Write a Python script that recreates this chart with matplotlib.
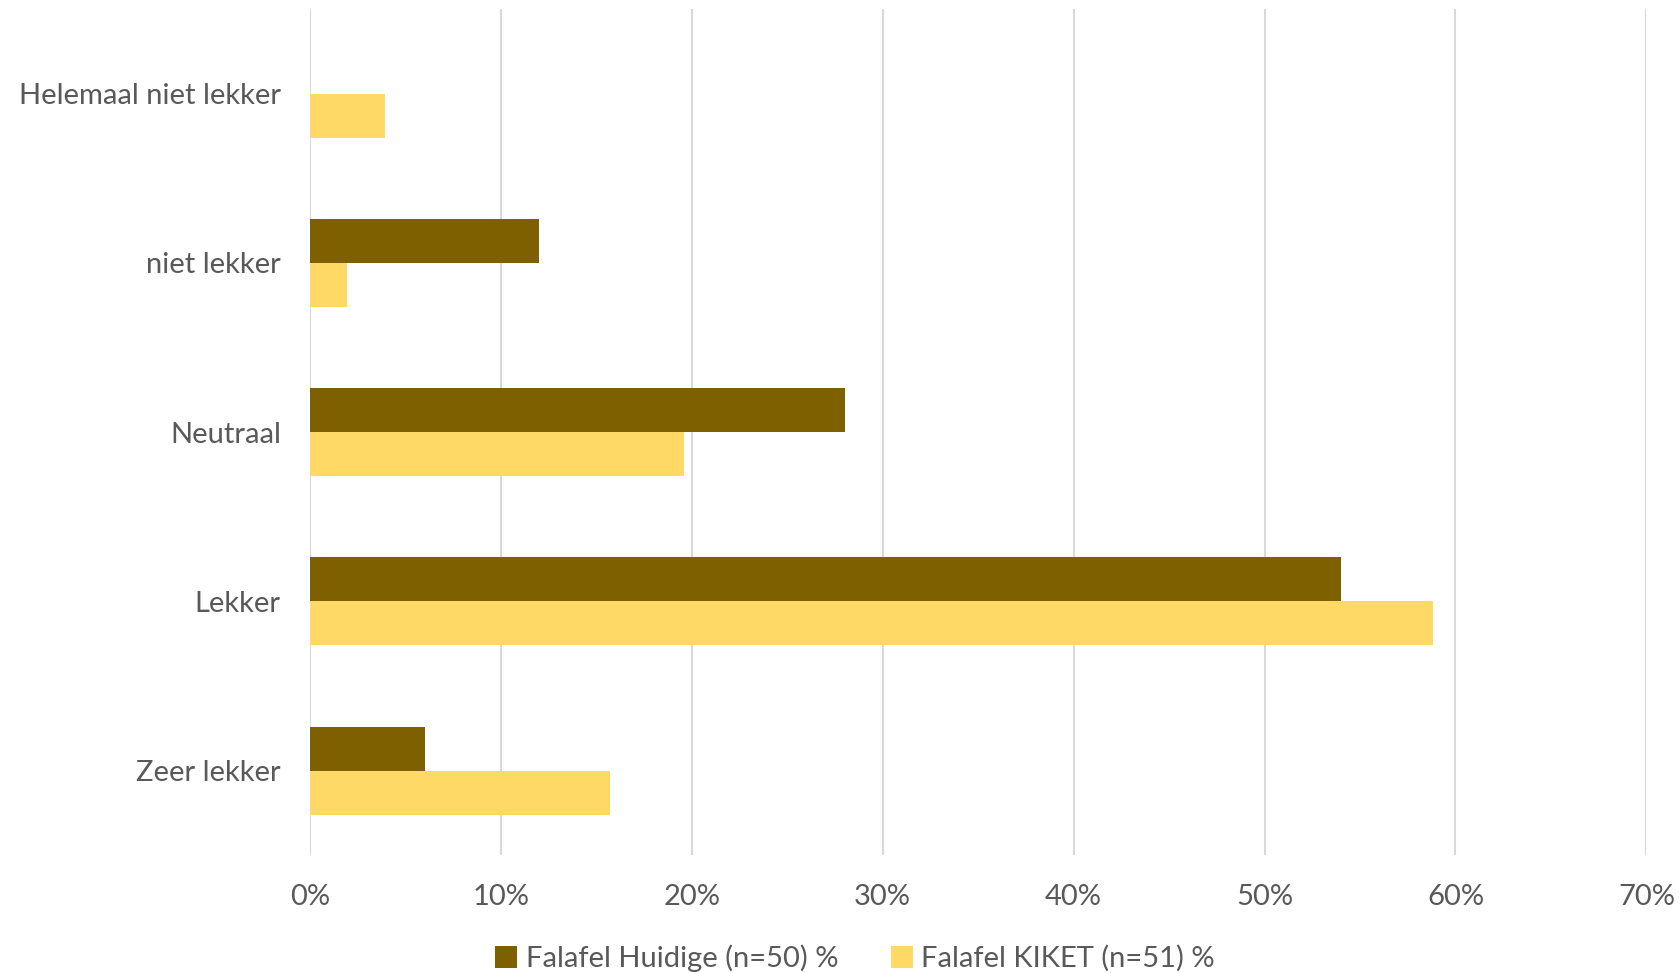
import matplotlib.pyplot as plt
import numpy as np

categories = ["Zeer lekker", "Lekker", "Neutraal", "niet lekker", "Helemaal niet lekker"]
huidige = [6.0, 54.0, 28.0, 12.0, 0.0]
kiket = [15.69, 58.82, 19.61, 1.96, 3.92]
series_names = ["Falafel Huidige (n=50) %", "Falafel KIKET (n=51) %"]
xticks = [0, 10, 20, 30, 40, 50, 60, 70]

plt.rcParams['font.family'] = ['Lato', 'DejaVu Sans']
text_color = "#595959"

fig = plt.figure(figsize=(16.8, 9.73), dpi=100)
ax = fig.add_axes([0.1845, 0.121, 0.7955, 0.8697])

y = np.arange(len(categories))
h = 0.26
ax.barh(y + h / 2, huidige, height=h, color="#7F6000", label=series_names[0], zorder=3)
ax.barh(y - h / 2, kiket, height=h, color="#FFD966", label=series_names[1], zorder=3)

ax.set_xlim(0, 70)
ax.set_ylim(-0.5, len(categories) - 0.5)
ax.set_xticks(xticks)
ax.set_xticklabels([f"{t}%" for t in xticks])
ax.set_yticks(y)
ax.set_yticklabels(categories)
ax.tick_params(axis="both", length=0, labelsize=21, colors=text_color)
ax.tick_params(axis="x", pad=21)
ax.tick_params(axis="y", pad=21)
ax.grid(axis="x", color="#d9d9d9", linewidth=1.5, zorder=0)
for s in ax.spines.values():
    s.set_visible(False)

fig.legend(loc="center", bbox_to_anchor=(0.509, 0.015), ncol=2, frameon=False,
           fontsize=21, labelcolor=text_color, handlelength=0.75, handleheight=0.75,
           handletextpad=0.3, columnspacing=1.8)

fig.savefig("out.png", dpi=100)
